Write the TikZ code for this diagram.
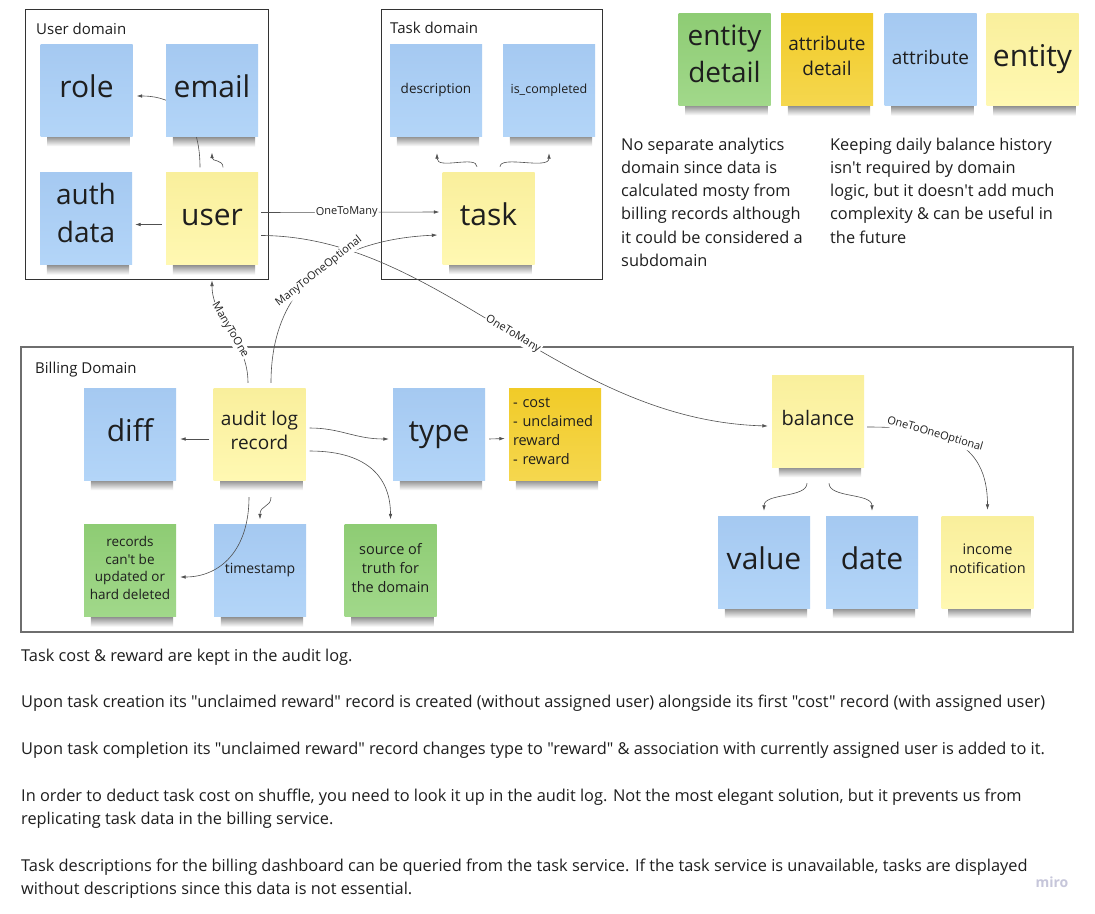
\documentclass[tikz,border=0pt]{standalone}
\usepackage{fontspec}
\setmainfont{Open Sans}[Ligatures=TeXOff]
\usetikzlibrary{arrows.meta,backgrounds}
\definecolor{ink}{HTML}{1E1E1E}
\definecolor{bluetop}{HTML}{A5C9F1}
\definecolor{bluebot}{HTML}{B3D5F8}
\definecolor{yellowtop}{HTML}{F9EF9C}
\definecolor{yellowbot}{HTML}{FFF8B2}
\definecolor{greentop}{HTML}{8ECC74}
\definecolor{greenbot}{HTML}{A1D88A}
\definecolor{goldtop}{HTML}{F1CB28}
\definecolor{goldbot}{HTML}{F5D74E}
\definecolor{framegray}{HTML}{333333}
\definecolor{billgray}{HTML}{6E6E6E}
\definecolor{linkgray}{HTML}{505050}
\definecolor{mirogray}{HTML}{C6C6DA}
\newcommand{\fsz}[2]{\fontsize{#1}{#2}\selectfont}
\tikzset{
  sticky/.style = {minimum width=92pt, minimum height=92pt, inner sep=3pt, align=center, text=ink,
    execute at end node=\strut},
  attribute/.style = {sticky, top color=bluetop, bottom color=bluebot},
  entity/.style = {sticky, top color=yellowtop, bottom color=yellowbot},
  detail/.style = {sticky, top color=greentop, bottom color=greenbot},
  attrdetail/.style = {sticky, top color=goldtop, bottom color=goldbot},
  domainbox/.style = {draw=framegray, line width=1pt, inner sep=0pt},
  domainlabel/.style = {anchor=west, inner sep=0pt, text=ink, font=\fsz{15}{18}},
  notetext/.style = {anchor=base west, align=left, inner sep=0pt, text=ink, font=\fsz{16.35}{23.3}},
  link/.style = {->, draw=linkgray, line width=0.6pt},
  rel/.style = {font=\fsz{11}{12}, fill=white, inner sep=1pt, sloped, text=ink}
}
\tikzset{>={Latex[length=5.5pt,width=3.6pt]}}

\begin{document}
\begin{tikzpicture}[x=1pt,y=-1pt]
  \useasboundingbox (0,0) rectangle (1095,913);
  % user domain
  \node[domainbox, minimum width=243pt, minimum height=270pt] (udom) at (146.5,144) {};
  \node[domainlabel] (udomlabel) at (36,29) {User domain};
  \node[attribute, font=\fsz{30}{36}] (role) at (86.5,90) {role};
  \node[attribute, font=\fsz{30}{36}] (email) at (212,90.5) {email};
  \node[attribute, font=\fsz{28}{38}] (authdata) at (86,218.5) {auth\\data};
  \node[entity, font=\fsz{30}{36}] (user) at (212,218.5) {user};
  % task domain
  \node[domainbox, minimum width=221pt, minimum height=270pt] (tdom) at (491.5,144) {};
  \node[domainlabel] (tdomlabel) at (390,28) {Task domain};
  \node[attribute, font=\fsz{13.5}{16}] (descr) at (436,90) {description};
  \node[attribute, font=\fsz{12.5}{15}] (iscompl) at (549,90) {is\_completed};
  \node[entity, font=\fsz{30}{36}] (task) at (488.5,218) {task};
  % legend
  \node[detail, font=\fsz{28}{37}] (legdetail) at (724.5,59) {entity\\detail};
  \node[attrdetail, font=\fsz{19}{25}] (legattrdetail) at (827,59.5) {attribute\\detail};
  \node[attribute, font=\fsz{19}{24}] (legattr) at (930.5,59.5) {attribute};
  \node[entity, font=\fsz{30}{36}] (legentity) at (1032.5,59.5) {entity};
  % side notes (base = last line)
  \node[notetext] (analyticsnote) at (621,266.5) {No separate analytics\\domain since data is\\calculated mosty from\\billing records although\\it could be considered a\\subdomain};
  \node[notetext] (historynote) at (830,243.2) {Keeping daily balance history\\isn't required by domain\\logic, but it doesn't add much\\complexity \& can be useful in\\the future};
  % billing domain
  \node[domainbox, draw=billgray, line width=1.2pt, minimum width=1052pt, minimum height=285pt] (bdom) at (547,489.5) {};
  \node[domainlabel] (bdomlabel) at (35,370) {Billing Domain};
  \node[attribute, font=\fsz{30}{36}] (diff) at (130,434) {diff};
  \node[entity, font=\fsz{19}{24}] (audit) at (259.5,434) {audit log\\record};
  \node[attribute, font=\fsz{30}{36}] (type) at (439,434) {type};
  \node[attrdetail, font=\fsz{14.5}{19}, align=left, text width=84pt] (costs) at (555,434) {- cost\\- unclaimed\\reward\\- reward};
  \node[detail, font=\fsz{13.5}{17.6}] (records) at (130,570.5) {records\\can't be\\updated or\\hard deleted};
  \node[attribute, font=\fsz{14}{17}] (timestamp) at (260,570.5) {timestamp};
  \node[detail, font=\fsz{14.5}{19}] (source) at (390.5,570.5) {source of\\truth for\\the domain};
  \node[entity, font=\fsz{20}{24}] (balance) at (818,421) {balance};
  \node[attribute, font=\fsz{30}{36}] (value) at (764,562) {value};
  \node[attribute, font=\fsz{30}{36}] (date) at (872,562) {date};
  \node[entity, font=\fsz{14.5}{19}] (income) at (987.5,562) {income\\notification};
  % bottom notes
  \node[notetext] (note1) at (21,661) {Task cost \& reward are kept in the audit log.};
  \node[notetext] (note2) at (21,707) {Upon task creation its "unclaimed reward" record is created (without assigned user) alongside its first "cost" record (with assigned user)};
  \node[notetext] (note3) at (21,754) {Upon task completion its "unclaimed reward" record changes type to "reward" \& association with currently assigned user is added to it.};
  \node[notetext] (note4) at (21,824.3) {In order to deduct task cost on shuffle, you need to look it up in the audit log. Not the most elegant solution, but it prevents us from\\replicating task data in the billing service.};
  \node[notetext] (note5) at (21,894.3) {Task descriptions for the billing dashboard can be queried from the task service. If the task service is unavailable, tasks are displayed\\without descriptions since this data is not essential.};
  \node[font=\fsz{14}{16}\bfseries, text=mirogray] (miro) at (1052,882) {miro};
  % user links
  \draw[link] ([shift={(11,-5)}]user.north) .. controls +(0,-8) and +(0,9) .. ([shift={(0,16)}]email.south);
  \draw[link] ([shift={(-4,6)}]user.west) -- ([shift={(3,6)}]authdata.east);
  \draw[link] ([shift={(3,-6)}]user.east) -- node[rel, pos=0.48] {OneToMany} ([shift={(-3,-6)}]task.west);
  \draw[link] ([shift={(3,17)}]user.east) .. controls (440,236) and (560,420) .. node[rel, pos=0.52] {OneToMany} ([shift={(-4,5)}]balance.west);
  % task links
  \draw[link] ([shift={(-11.5,-5)}]task.north) .. controls +(0,-12) and +(0,17) .. ([shift={(1,17)}]descr.south);
  \draw[link] ([shift={(11.5,-5)}]task.north) .. controls +(0,-12) and +(0,17) .. ([shift={(0,17)}]iscompl.south);
  % audit log links
  \draw[link] ([shift={(-11.5,-5)}]audit.north) .. controls +(0,-43) and +(0,39) .. node[rel] {ManyToOne} ([yshift=-1pt]udom.south -| user);
  \draw[link] ([shift={(11.5,-5)}]audit.north) .. controls +(0,-93) and +(-108,5) .. node[rel, pos=0.53] {ManyToOneOptional} ([shift={(-5,17)}]task.west);
  \draw[link] ([shift={(-4,5)}]audit.west) -- ([shift={(4,5)}]diff.east);
  \draw[link] ([shift={(4,-6)}]audit.east) .. controls +(31,0) and +(-34,0) .. ([shift={(-4,5)}]type.west);
  \draw[link] ([shift={(4,5)}]type.east) -- ([shift={(-4,4.5)}]costs.west);
  \draw[link] ([shift={(4,17)}]audit.east) .. controls +(61,0) and +(0,-39) .. ([yshift=5pt]source.north);
  \draw[link] ([shift={(11.5,17)}]audit.south) .. controls +(0,10) and +(0,-14) .. ([yshift=5pt]timestamp.north);
  \draw[link] ([shift={(-10.5,17)}]audit.south) .. controls +(0,53) and +(40,0) .. ([shift={(4,6.5)}]records.east);
  % balance links
  \draw[link] ([shift={(-11,16)}]balance.south) .. controls +(0,15) and +(0,-18) .. ([yshift=5pt]value.north);
  \draw[link] ([shift={(11,16)}]balance.south) .. controls +(0,15) and +(0,-18) .. ([yshift=5pt]date.north);
  \draw[link] ([shift={(3,6)}]balance.east) .. controls +(73,0) and +(0,-70) .. node[rel, pos=0.36] {OneToOneOptional} ([yshift=6pt]income.north);
  % background and shadows
  \begin{scope}[on background layer]
    \fill[white] (0,0) rectangle (1095,913);
    \foreach \n in {role,email,authdata,user,descr,iscompl,task,legdetail,legattrdetail,legattr,legentity,diff,audit,type,costs,records,timestamp,source,balance,value,date,income}
      \shade[top color=black!45, bottom color=white] ([shift={(7,0)}]\n.south west) rectangle ([shift={(-3,10)}]\n.south east);
    \draw[link] ([shift={(-12,-5)}]user.north) .. controls +(0,-50) and +(40,0) .. ([shift={(4,6)}]role.east);
  \end{scope}
\end{tikzpicture}
\end{document}
